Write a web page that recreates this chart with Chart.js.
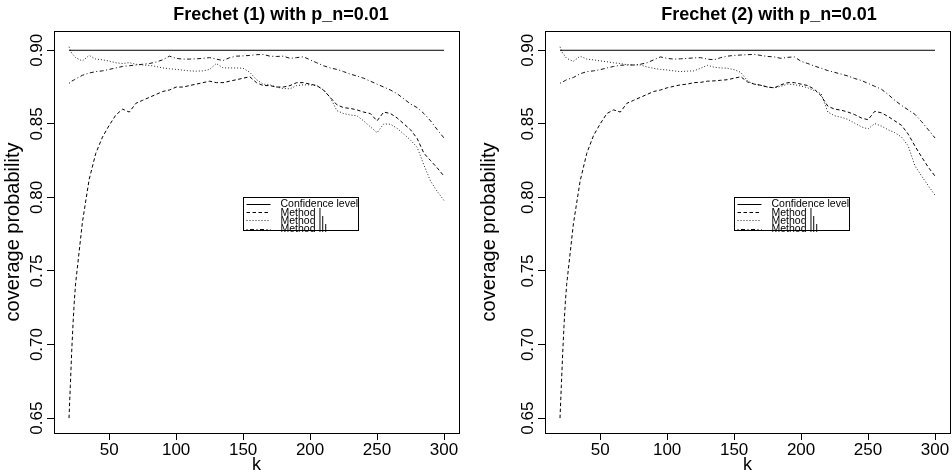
<!DOCTYPE html>
<html><head><meta charset="utf-8">
<script src="https://cdn.jsdelivr.net/npm/chart.js@4.4.1/dist/chart.umd.min.js"></script>
<style>
html,body{margin:0;padding:0;background:#fff;}
#wrap{position:relative;width:952px;height:475px;overflow:hidden;}
.panel{position:absolute;top:0;width:476px;height:475px;}
</style></head><body>
<div id="wrap">
<div class="panel" style="left:0"><canvas id="c1" width="476" height="475"></canvas></div>
<div class="panel" style="left:476px"><canvas id="c2" width="476" height="475"></canvas></div>
</div>
<script>
// ---- data ----
const kValues = [20,21,22,23,24,25,30,35,40,45,50,55,60,65,70,75,80,85,90,95,100,105,110,115,120,125,130,135,140,145,150,155,160,165,170,175,180,185,190,195,200,205,210,215,220,225,230,235,240,245,250,255,260,265,270,275,280,285,290,295,300];
const confidenceLevel = 0.90;
const panelTitles = ['Frechet (1) with p_n=0.01', 'Frechet (2) with p_n=0.01'];
const seriesNames = ['Confidence level', 'Method I', 'Method II', 'Method III'];
const xTicks = [50, 100, 150, 200, 250, 300];
const yTicks = [0.65, 0.70, 0.75, 0.80, 0.85, 0.90];
const xLabel = 'k';
const yLabel = 'coverage probability';

const frechet1MethodI = [0.650,0.672,0.695,0.714,0.730,0.742,0.783,0.812,0.830,0.841,0.849,0.856,0.860,0.858,0.864,0.866,0.868,0.870,0.872,0.873,0.875,0.875,0.876,0.877,0.878,0.879,0.878,0.878,0.879,0.880,0.881,0.882,0.878,0.876,0.876,0.875,0.875,0.876,0.878,0.878,0.877,0.876,0.873,0.868,0.863,0.861,0.8605,0.8595,0.858,0.857,0.852,0.858,0.857,0.854,0.850,0.846,0.840,0.830,0.825,0.820,0.8145];
const frechet1MethodII = [0.9024,0.900,0.898,0.897,0.896,0.895,0.8927,0.8965,0.894,0.8935,0.8927,0.8915,0.891,0.8916,0.8905,0.890,0.8897,0.889,0.888,0.8875,0.887,0.8865,0.886,0.8858,0.886,0.887,0.891,0.888,0.888,0.888,0.8878,0.885,0.880,0.877,0.8765,0.875,0.874,0.8738,0.876,0.8765,0.8765,0.876,0.873,0.868,0.859,0.857,0.856,0.8555,0.852,0.848,0.844,0.850,0.8497,0.847,0.843,0.839,0.834,0.822,0.811,0.804,0.798];
const frechet1MethodIII = [0.8776,0.878,0.879,0.8795,0.880,0.8805,0.883,0.8845,0.8855,0.886,0.887,0.888,0.889,0.8895,0.890,0.8905,0.891,0.892,0.8935,0.896,0.8945,0.894,0.894,0.8942,0.8945,0.895,0.894,0.893,0.895,0.896,0.8962,0.8965,0.897,0.8972,0.896,0.8958,0.896,0.8945,0.895,0.8956,0.8935,0.8915,0.8895,0.888,0.887,0.8855,0.8838,0.8825,0.881,0.879,0.877,0.875,0.873,0.8705,0.867,0.8635,0.861,0.857,0.852,0.846,0.8404];

const frechet2MethodI = [0.650,0.672,0.694,0.713,0.729,0.741,0.782,0.811,0.830,0.842,0.850,0.857,0.8595,0.858,0.864,0.866,0.868,0.870,0.872,0.873,0.8745,0.8755,0.8765,0.877,0.878,0.8782,0.879,0.8792,0.8796,0.880,0.881,0.882,0.8785,0.877,0.8762,0.875,0.8745,0.8765,0.878,0.878,0.877,0.876,0.8735,0.869,0.862,0.860,0.8593,0.858,0.8563,0.854,0.8528,0.8585,0.8575,0.855,0.852,0.849,0.843,0.835,0.8275,0.8205,0.8145];
const frechet2MethodII = [0.9024,0.900,0.898,0.897,0.8955,0.8945,0.8925,0.896,0.894,0.8935,0.8928,0.8922,0.8915,0.891,0.8902,0.890,0.890,0.8887,0.8877,0.887,0.8866,0.886,0.8855,0.8858,0.886,0.8878,0.8898,0.8885,0.888,0.8878,0.8868,0.885,0.8792,0.877,0.8762,0.875,0.8745,0.8755,0.877,0.8766,0.8757,0.8745,0.8725,0.8705,0.858,0.8555,0.8545,0.853,0.8505,0.848,0.8465,0.8502,0.8485,0.846,0.844,0.841,0.835,0.8215,0.8145,0.808,0.8015];
const frechet2MethodIII = [0.8776,0.878,0.8785,0.879,0.8795,0.880,0.8815,0.884,0.8855,0.886,0.8868,0.888,0.889,0.8898,0.890,0.890,0.8905,0.8915,0.8935,0.8955,0.8945,0.894,0.8942,0.8945,0.8948,0.895,0.894,0.8935,0.895,0.896,0.8965,0.8968,0.897,0.8972,0.8965,0.8958,0.8955,0.8945,0.8952,0.8955,0.8925,0.891,0.8893,0.8878,0.8862,0.885,0.8838,0.8825,0.8808,0.8795,0.8775,0.8755,0.8735,0.870,0.866,0.8625,0.8595,0.8565,0.8515,0.846,0.8404];

// ---- styling ----
const FONT = '"Liberation Sans", Arial, Helvetica, sans-serif';
const dashes = [[], [3.5, 2.5], [1, 2], [1, 2.5, 4, 2.5]];
const lineColors = ['#000', '#000', '#222', '#111'];

const framePlugin = {
  id: 'frame',
  afterDraw(chart, args, o) {
    const {ctx, chartArea: a, scales} = chart;
    ctx.save();
    ctx.strokeStyle = '#000';
    ctx.lineWidth = 1;
    ctx.setLineDash([]);
    const L = Math.round(a.left) + 0.5, T = Math.round(a.top) + 0.5;
    const R = Math.round(a.right) + 0.5, B = Math.round(a.bottom) + 0.5;
    ctx.strokeRect(L, T, R - L, B - T);
    ctx.fillStyle = '#000';
    // title
    ctx.font = 'bold 18px ' + FONT;
    ctx.textAlign = 'center';
    ctx.textBaseline = 'alphabetic';
    ctx.fillText(o.title, o.titleX, 20);
    // x label
    ctx.font = '18px ' + FONT;
    ctx.fillText(xLabel, (a.left + a.right) / 2, 470);
    // y label
    ctx.save();
    ctx.font = '20px ' + FONT;
    ctx.translate(19, (a.top + a.bottom) / 2);
    ctx.rotate(-Math.PI / 2);
    ctx.fillText(yLabel, 0, 0);
    ctx.restore();
    // legend
    const lx = Math.round(scales.x.getPixelForValue(150)) + 0.5;
    const ly = Math.round(scales.y.getPixelForValue(0.80)) + 0.5;
    const lw = 115, lh = 33;
    ctx.fillStyle = '#fff';
    ctx.fillRect(lx, ly, lw, lh);
    ctx.strokeStyle = '#000';
    ctx.strokeRect(lx, ly, lw, lh);
    ctx.font = '10.5px ' + FONT;
    ctx.textAlign = 'left';
    ctx.textBaseline = 'middle';
    chart.data.datasets.forEach((ds, i) => {
      const cy = ly + 6.5 + i * 8.2;
      ctx.strokeStyle = ds.borderColor;
      ctx.setLineDash(ds.borderDash);
      ctx.beginPath();
      ctx.moveTo(lx + 3, Math.round(cy) + 0.5);
      ctx.lineTo(lx + 27, Math.round(cy) + 0.5);
      ctx.stroke();
      ctx.fillStyle = '#000';
      ctx.fillText(ds.label, lx + 37, cy + 0.5);
    });
    ctx.restore();
  }
};

function makeChart(id, title, titleX, mI, mII, mIII, leftW, rightPad) {
  const series = [null, mI, mII, mIII];
  const datasets = seriesNames.map((name, i) => ({
    label: name,
    data: i === 0
      ? [{x: kValues[0], y: confidenceLevel}, {x: kValues[kValues.length - 1], y: confidenceLevel}]
      : kValues.map((k, j) => ({x: k, y: series[i][j]})),
    borderColor: lineColors[i],
    borderWidth: 1,
    borderDash: dashes[i],
    pointRadius: 0,
    tension: 0,
    fill: false
  }));
  const axisCommon = {
    grid: {display: true, drawOnChartArea: false, drawTicks: true, tickLength: 7, color: '#000', lineWidth: 1},
    border: {display: false}
  };
  return new Chart(document.getElementById(id), {
    type: 'line',
    data: {datasets},
    options: {
      responsive: false,
      animation: false,
      events: [],
      layout: {padding: {top: 31, right: rightPad, left: 0, bottom: 0}},
      plugins: {legend: {display: false}, title: {display: false}, tooltip: {enabled: false},
                frame: {title, titleX}},
      scales: {
        x: Object.assign({
          type: 'linear', min: 8.8, max: 311.2,
          afterFit: s => { s.height = 42; },
          afterBuildTicks: s => { s.ticks = xTicks.map(v => ({value: v})); },
          ticks: {font: {family: FONT, size: 17}, color: '#000', padding: 0, maxRotation: 0, minRotation: 0, autoSkip: false,
                  callback: v => String(v)}
        }, axisCommon),
        y: Object.assign({
          type: 'linear', min: 0.6399, max: 0.9131,
          afterFit: s => { s.width = leftW; },
          afterBuildTicks: s => { s.ticks = yTicks.map(v => ({value: v})); },
          ticks: {font: {family: FONT, size: 17}, color: '#000', padding: -6.5, minRotation: 90, maxRotation: 90,
                  crossAlign: 'center', autoSkip: false, callback: v => Number(v).toFixed(2)}
        }, axisCommon)
      }
    },
    plugins: [framePlugin]
  });
}

makeChart('c1', panelTitles[0], 281, frechet1MethodI, frechet1MethodII, frechet1MethodIII, 54, 17);
makeChart('c2', panelTitles[1], 293, frechet2MethodI, frechet2MethodII, frechet2MethodIII, 69, 2);
</script>
</body></html>
